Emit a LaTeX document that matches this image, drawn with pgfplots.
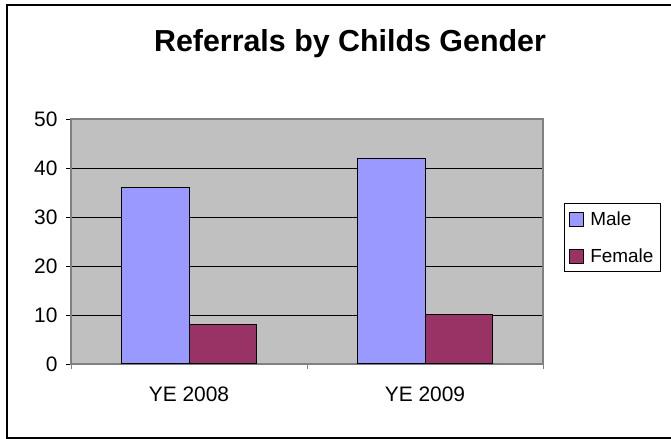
\documentclass[border=0pt]{standalone}
\usepackage{fontspec}
\setmainfont{Liberation Sans}
\usepackage{pgfplots}
\pgfplotsset{compat=1.18}
\definecolor{male}{HTML}{9999FF}
\definecolor{female}{HTML}{993366}
\definecolor{plotgray}{HTML}{C0C0C0}
\definecolor{bordergray}{HTML}{808080}
\begin{document}
\begin{tikzpicture}[x=1bp,y=1bp]
\useasboundingbox (0,0) rectangle (671,439);
\draw[line width=1.6bp] (7,1) rectangle (700,434);
\node[anchor=base, font=\bfseries\fontsize{30.5}{36}\selectfont, inner sep=0pt] at (350,387) {Referrals by Childs Gender};
\begin{axis}[
  at={(71bp,75bp)}, anchor=south west,
  width=472bp, height=245bp, scale only axis,
  xmin=-0.5, xmax=1.5, ymin=0, ymax=50,
  xtick={-0.5,0.5,1.5}, xticklabels={YE 2008,YE 2009},
  x tick label as interval,
  ytick={0,10,...,50},
  xtick pos=bottom, ytick pos=left,
  ymajorgrids,
  major grid style={black, line width=0.8bp},
  axis background/.style={fill=plotgray},
  axis line style={draw=bordergray, line width=1.2bp},
  tick align=outside, major tick length=5bp,
  tick style={black, line width=0.8bp},
  x tick style={bordergray},
  tick label style={font=\fontsize{21}{25}\selectfont},
  yticklabel style={xshift=-5bp},
  xticklabel style={yshift=-14bp},
  /pgf/number format/assume math mode=true,
  legend style={at={(1.0445,0.657)}, anchor=north west, draw=black, line width=0.8bp,
    font=\fontsize{19}{23}\selectfont, row sep=18bp, inner xsep=5bp, inner ysep=6bp},
  legend cell align=left,
  legend image code/.code={\draw[#1, draw=black, line width=0.8bp] (2bp,-7bp) rectangle (16bp,7bp); \path (20bp,0bp);},
]
\addplot[ybar, bar width=0.288, bar shift=-0.144, fill=male, draw=black, line width=1bp] coordinates {(0,36) (1,42)};
\addplot[ybar, bar width=0.288, bar shift=0.144, fill=female, draw=black, line width=1bp] coordinates {(0,8) (1,10)};
\legend{Male,Female}
\end{axis}
\end{tikzpicture}
\end{document}
